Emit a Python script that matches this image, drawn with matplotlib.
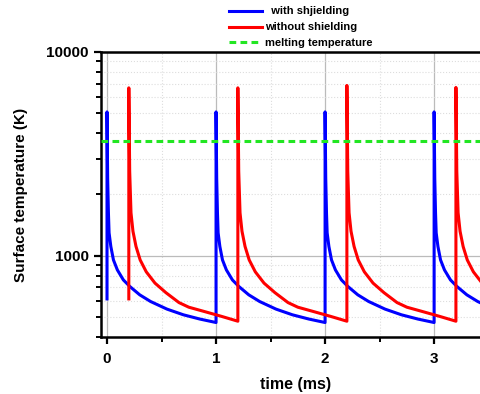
import numpy as np
import matplotlib.pyplot as plt
from matplotlib.ticker import LogLocator, MultipleLocator, NullFormatter, FixedLocator

plt.rcParams['font.family'] = ['Liberation Sans', 'DejaVu Sans']
plt.rcParams['font.weight'] = 'bold'

# pulse start times (ms) and peak temperatures (K)
blue_starts = [0.0, 1.0, 2.0, 3.0]
blue_peaks = [5080, 5080, 5080, 5080]
red_starts = [0.2, 1.2, 2.2, 3.2]
red_peaks = [6670, 6670, 6850, 6700]
start_temp = 615

# cooling profile after each pulse (time after pulse, temperature)
blue_dt = [0.006, 0.013, 0.019, 0.035, 0.059, 0.095, 0.15, 0.21, 0.30, 0.40, 0.55, 0.70, 0.85, 1.0]
blue_T = [2400, 1626, 1297, 1112, 955, 853, 762, 707, 644, 597, 548, 514, 490, 471]
red_dt = [0.008, 0.02, 0.038, 0.066, 0.104, 0.16, 0.24, 0.34, 0.46, 0.55, 0.70, 0.85, 1.0]
red_T = [2600, 1626, 1320, 1112, 955, 835, 735, 660, 590, 560, 532, 505, 478]

melting = 3660


def build(starts, peaks, dts, temps):
    t = [starts[0]]
    T = [start_temp]
    for t0, pk in zip(starts, peaks):
        t.append(t0)
        T.append(pk)
        t += [t0 + d for d in dts]
        T += temps
    return np.array(t), np.array(T)


bt, bT = build(blue_starts, blue_peaks, blue_dt, blue_T)
rt, rT = build(red_starts, red_peaks, red_dt, red_T)

fig = plt.figure(figsize=(4.81, 3.94), dpi=100)
ax = fig.add_axes([0.21, 0.1447, 0.79, 0.7234])

ax.plot(bt, bT, color='#0000ff', lw=2.2, label='  with shjielding', zorder=3)
ax.plot(rt, rT, color='#ff0000', lw=2.2, label='without shielding', zorder=3)
ax.axhline(melting, color='#22e622', lw=2.2, ls=(0, (2.2, 1.4)), label='melting temperature', zorder=4)

ax.set_yscale('log')
ax.set_ylim(400, 10000)
ax.set_xlim(-0.055, 3.43)

ax.xaxis.set_major_locator(FixedLocator([0, 1, 2, 3]))
ax.xaxis.set_minor_locator(MultipleLocator(0.5))
ax.yaxis.set_major_locator(FixedLocator([1000, 10000]))
ax.yaxis.set_minor_locator(LogLocator(base=10, subs=np.arange(2, 10)))
ax.yaxis.set_minor_formatter(NullFormatter())
ax.set_yticklabels(['1000', '10000'])

ax.grid(True, which='major', color='#bbbbbb', lw=0.9, ls='-')
ax.grid(True, which='minor', color='#dddddd', lw=0.8, ls=':')
ax.set_axisbelow(True)

ax.tick_params(which='major', direction='out', length=5, width=1.6, labelsize=11, pad=4)
ax.tick_params(which='minor', direction='out', length=3.5, width=1.4)
ax.tick_params(axis='x', which='major', pad=6)
ax.tick_params(top=False, right=False, which='both')

for s in ['left', 'bottom', 'top']:
    ax.spines[s].set_linewidth(1.8)
ax.spines['right'].set_visible(False)

ax.set_xlabel('time (ms)', fontsize=11.5, fontweight='bold')
ax.xaxis.set_label_coords(0.512, -0.14)
ax.set_ylabel('Surface temperature (K)', fontsize=11, fontweight='bold')
ax.yaxis.set_label_coords(-0.192, 0.5)

fig.legend(loc='upper left', bbox_to_anchor=(229 / 481, 1 - 6.5 / 394), frameon=False,
           fontsize=8, handlelength=3.0, handletextpad=0.2, labelspacing=0.53,
           borderpad=0, borderaxespad=0)

fig.savefig('out.png', dpi=100)
